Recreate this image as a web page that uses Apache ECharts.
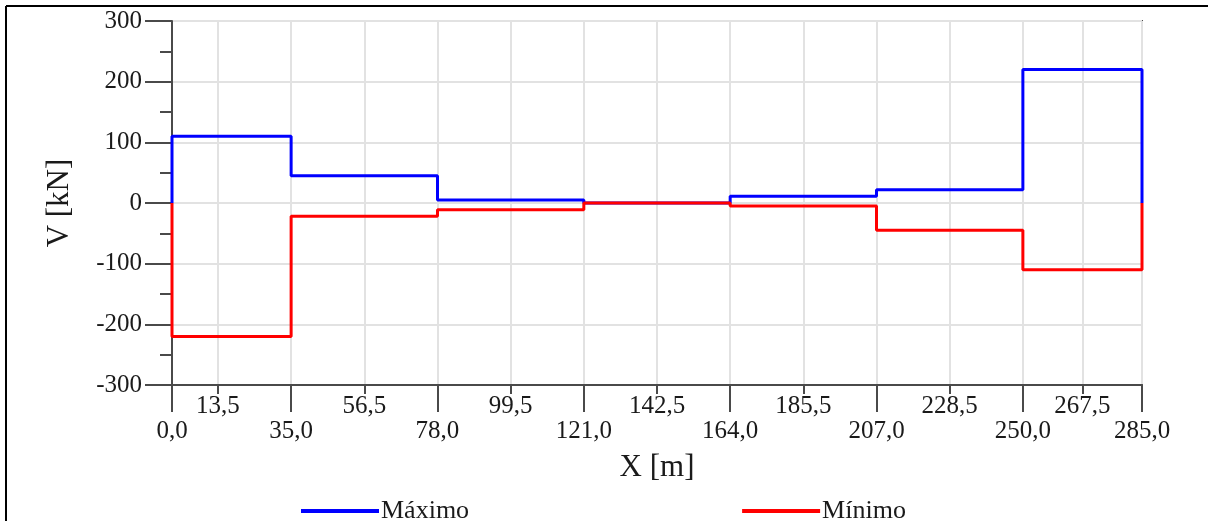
<!DOCTYPE html>
<html>
<head>
<meta charset="utf-8">
<title>Esforço cortante</title>
<script src="https://cdn.jsdelivr.net/npm/echarts@6/dist/echarts.min.js"></script>
<style>
  html, body { margin: 0; padding: 0; background: #ffffff; }
  #chart { width: 1208px; height: 521px; }
</style>
</head>
<body>
<div id="chart"></div>
<script>
// Section boundaries along the girder [m]
const sectionBounds = [0, 35, 78, 121, 164, 207, 250, 285];
// Shear envelope per section [kN]
const shearMax = [110, 45, 5, 0, 11, 22, 220];
const shearMin = [-220, -22, -11, 0, -5, -45, -110];
// X tick positions: long ticks (lower label row) and short ticks (upper label row)
const xTicksMajor = [0, 35, 78, 121, 164, 207, 250, 285];
const xTicksMinor = [13.5, 56.5, 99.5, 142.5, 185.5, 228.5, 267.5];
// Legend names
const seriesNames = ['Máximo', 'Mínimo'];

// Turn per-section values into a stepped polyline that starts and ends on zero
function stepLine(bounds, values) {
  const pts = [[bounds[0], 0]];
  for (let i = 0; i < values.length; i++) {
    pts.push([bounds[i], values[i]]);
    pts.push([bounds[i + 1], values[i]]);
  }
  pts.push([bounds[bounds.length - 1], 0]);
  return pts;
}

const FONT = 'Liberation Serif';
const AXIS_COLOR = '#4a4a4a';
const GRID_COLOR = '#e2e2e2';
const fmt = v => v.toFixed(1).replace('.', ',');

function xAxisDef(ticks, tickLen, labelMargin, withName) {
  return {
    type: 'value',
    min: 0,
    max: 285,
    position: 'bottom',
    name: withName ? 'X [m]' : '',
    nameLocation: 'middle',
    nameGap: 67,
    nameTextStyle: { fontFamily: FONT, fontSize: 31, color: '#1a1a1a' },
    axisLine: { show: true, onZero: false, lineStyle: { color: AXIS_COLOR, width: 2 } },
    axisTick: { show: true, length: tickLen, customValues: ticks, lineStyle: { color: AXIS_COLOR, width: 2 } },
    axisLabel: {
      customValues: ticks,
      formatter: fmt,
      margin: labelMargin,
      fontFamily: FONT,
      fontSize: 25,
      color: '#1a1a1a'
    },
    splitLine: { show: true, lineStyle: { color: GRID_COLOR, width: 2 } }
  };
}

const chart = echarts.init(document.getElementById('chart'), null, { renderer: 'canvas' });

chart.setOption({
  animation: false,
  backgroundColor: '#ffffff',
  grid: {
    left: 172,
    right: 66,
    top: 21,
    bottom: 136,
    show: true,
    borderColor: AXIS_COLOR,
    borderWidth: 2,
    backgroundColor: 'transparent'
  },
  graphic: [
    { type: 'line', shape: { x1: 6, y1: 6, x2: 1208, y2: 6 }, style: { stroke: '#000', lineWidth: 2 } },
    { type: 'line', shape: { x1: 6, y1: 6, x2: 6, y2: 521 }, style: { stroke: '#000', lineWidth: 2 } }
  ],
  legend: {
    data: seriesNames,
    left: 296,
    top: 493,
    icon: 'rect',
    itemWidth: 78,
    itemHeight: 4,
    itemGap: 273,
    selectedMode: false,
    textStyle: { fontFamily: FONT, fontSize: 26, color: '#1a1a1a', padding: [0, 0, 0, -3] }
  },
  xAxis: [
    xAxisDef(xTicksMajor, 27, 34, true),
    xAxisDef(xTicksMinor, 9, 9, false)
  ],
  yAxis: {
    type: 'value',
    min: -300,
    max: 300,
    interval: 100,
    name: 'V [kN]',
    nameLocation: 'middle',
    nameGap: 97,
    nameTextStyle: { fontFamily: FONT, fontSize: 31, color: '#1a1a1a' },
    axisLine: { show: true, onZero: false, lineStyle: { color: AXIS_COLOR, width: 2 } },
    axisTick: { show: true, length: 27, lineStyle: { color: AXIS_COLOR, width: 2 } },
    minorTick: { show: true, splitNumber: 2, length: 12, lineStyle: { color: AXIS_COLOR, width: 2 } },
    axisLabel: { margin: 30, fontFamily: FONT, fontSize: 25, color: '#1a1a1a' },
    splitLine: { show: true, lineStyle: { color: GRID_COLOR, width: 2 } }
  },
  series: [
    {
      name: seriesNames[0],
      type: 'line',
      xAxisIndex: 0,
      data: stepLine(sectionBounds, shearMax),
      showSymbol: false,
      color: '#0000ff',
      lineStyle: { color: '#0000ff', width: 3 },
      z: 3
    },
    {
      name: seriesNames[1],
      type: 'line',
      xAxisIndex: 0,
      data: stepLine(sectionBounds, shearMin),
      showSymbol: false,
      color: '#ff0000',
      lineStyle: { color: '#ff0000', width: 3 },
      z: 4
    }
  ]
});
</script>
</body>
</html>
